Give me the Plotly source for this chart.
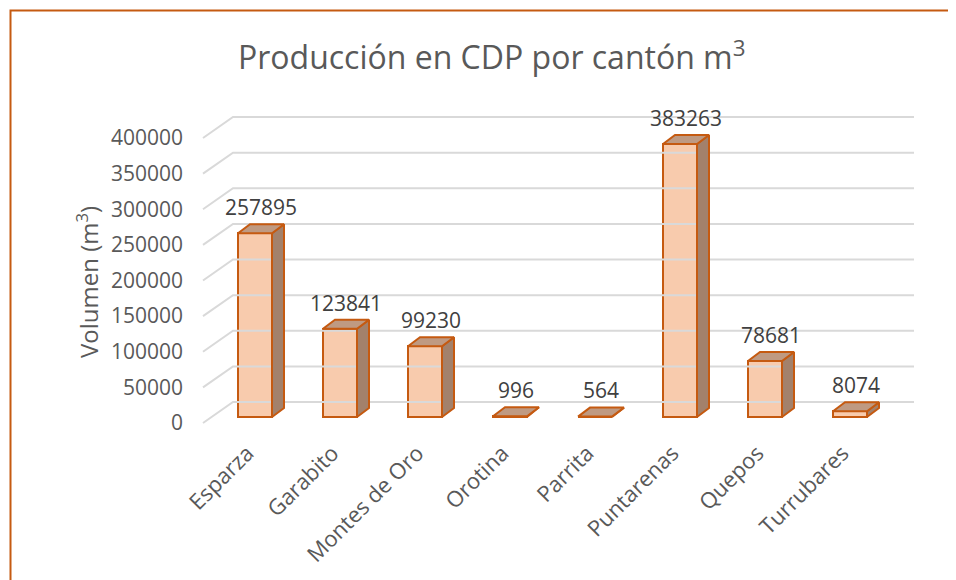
import plotly.graph_objects as go

# data
cantones = ["Esparza", "Garabito", "Montes de Oro", "Orotina", "Parrita",
            "Puntarenas", "Quepos", "Turrubares"]
volumen = [257895, 123841, 99230, 996, 564, 383263, 78681, 8074]
y_ticks = [0, 50000, 100000, 150000, 200000, 250000, 300000, 350000, 400000]

# the page body has an 8px margin, so the figure is 8px smaller and all
# screen positions below are given relative to the window, minus 8
PAD = 8
W, H = 956 - PAD, 580 - PAD
L, R, T, B = 192 - PAD, 930 - PAD, 100 - PAD, 432 - PAD   # plot area in px
X0PX, XSTEP = 255 - PAD, 85              # px of first bar centre, px per category
Y0PX, K = 417 - PAD, 285 / 400000        # px of bar base, px per unit

def xd(px):  # window px -> x data
    return (px - PAD - X0PX) / XSTEP

def yd(dpx):  # px offset (upwards) -> y data
    return dpx / K

def px_x(px):  # window px -> paper x
    return (px - PAD - L) / (R - L)

def px_y(py):  # window px -> paper y
    return (B - (py - PAD)) / (B - T)

ORANGE = "#C55A11"
FRONT, TOP, SIDE = "#F8CBAD", "#BF9A82", "#A3816B"
GRID = "#D9D9D9"
TXT = "#595959"
FONT = "Open Sans"

fig = go.Figure()

# 3d wall grid: left wall diagonals + back wall lines
wall_front_x, wall_back_x, wall_right_x = xd(203), xd(233), xd(914)
front_off, back_off = -yd(6), yd(15)
gx, gy = [], []
for v in y_ticks:
    gx += [wall_front_x, wall_back_x, wall_right_x, None]
    gy += [v + front_off, v + back_off, v + back_off, None]
fig.add_trace(go.Scatter(x=gx, y=gy, mode="lines", line=dict(color=GRID, width=2),
                         hoverinfo="skip", showlegend=False, cliponaxis=False))

# bars: side and top faces
bw = 34 / XSTEP
ddx, ddy = 12 / XSTEP, yd(9)
for i, v in enumerate(volumen):
    xl, xr = i - bw / 2, i + bw / 2
    fig.add_trace(go.Scatter(
        x=[xr, xr + ddx, xr + ddx, xr, xr], y=[0, ddy, v + ddy, v, 0],
        mode="lines", fill="toself", fillcolor=SIDE,
        line=dict(color=ORANGE, width=2), hoverinfo="skip", showlegend=False))
    fig.add_trace(go.Scatter(
        x=[xl, xr, xr + ddx, xl + ddx, xl], y=[v, v, v + ddy, v + ddy, v],
        mode="lines", fill="toself", fillcolor=TOP,
        line=dict(color=ORANGE, width=2), hoverinfo="skip", showlegend=False))

# front faces
fig.add_trace(go.Bar(x=list(range(len(cantones))), y=volumen, width=bw,
                     marker=dict(color=FRONT, line=dict(color=ORANGE, width=2)),
                     showlegend=False, hovertext=cantones))

# value labels
fig.add_trace(go.Scatter(x=[i + ddx / 2 for i in range(len(volumen))],
                         y=[v + ddy + yd(4) for v in volumen], mode="text",
                         text=[str(v) for v in volumen], textposition="top center",
                         textfont=dict(family=FONT, size=21, color="#404040"),
                         showlegend=False, hoverinfo="skip", cliponaxis=False))

fig.update_layout(
    width=W, height=H,
    margin=dict(l=L, r=W - R, t=T, b=H - B, pad=0),
    paper_bgcolor="white", plot_bgcolor="white",
    font=dict(family=FONT, color=TXT, size=21),
    bargap=0,
    xaxis=dict(range=[xd(L + PAD), xd(R + PAD)], showgrid=False, zeroline=False,
               showline=False, tickmode="array",
               tickvals=[i - 0.09 for i in range(len(cantones))],
               ticktext=cantones, tickangle=-45, ticks="", ticklabelstandoff=3,
               tickfont=dict(family=FONT, size=22, color=TXT), fixedrange=True),
    yaxis=dict(range=[yd(Y0PX - B), yd(Y0PX - T)], showgrid=False, zeroline=False,
               showline=False, tickmode="array",
               tickvals=[v + front_off for v in y_ticks],
               ticktext=[str(v) for v in y_ticks], ticks="", ticklabelstandoff=8,
               tickfont=dict(family=FONT, size=21, color=TXT), fixedrange=True),
    annotations=[
        dict(text="Producción en CDP por cantón m<sup>3</sup>", xref="paper", yref="paper",
             x=px_x(492), y=px_y(55), xanchor="center", yanchor="middle",
             showarrow=False, font=dict(family=FONT, size=32, color=TXT)),
        dict(text="Volumen (m<sup>3</sup>)", xref="paper", yref="paper",
             x=px_x(87), y=px_y(282), textangle=-90,
             xanchor="center", yanchor="middle", showarrow=False,
             font=dict(family=FONT, size=24, color=TXT)),
    ],
    shapes=[dict(type="rect", xref="paper", yref="paper",
                 x0=px_x(10.5), x1=px_x(980), y0=px_y(600), y1=px_y(10.5),
                 line=dict(color=ORANGE, width=2), layer="below")],
)

fig.write_html("out.html")
